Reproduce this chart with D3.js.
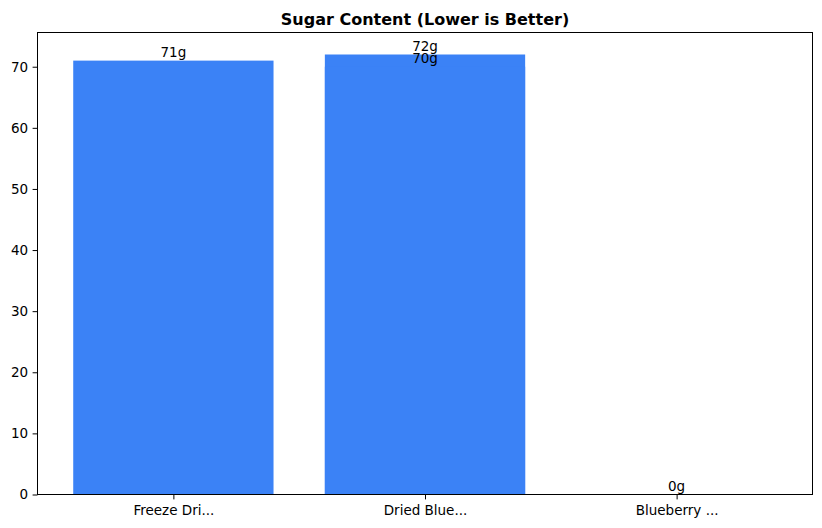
<!DOCTYPE html>
<html>
<head>
<meta charset="utf-8">
<script src="https://cdn.jsdelivr.net/npm/d3@7"></script>
<style>
  body { margin: 0; background: #fff; }
  text { font-family: "DejaVu Sans", sans-serif; }
</style>
</head>
<body>
<svg id="chart" width="822" height="528"></svg>
<script>
// products (labels are truncated, two share the same label)
const products = ["Freeze Dri...", "Dried Blue...", "Dried Blue...", "Blueberry ..."];
const sugar = [71, 72, 70, 0];
const yTicks = [0, 10, 20, 30, 40, 50, 60, 70];

const width = 822;
const height = 528;
const margin = { top: 32.5, right: 9.5, bottom: 33.5, left: 37.5 };

const svg = d3.select("#chart");

const categories = Array.from(new Set(products));
const data = products.map((p, i) => ({ name: p, value: sugar[i] }));

// category positions like matplotlib: index, bar width 0.8, 5% margins
const idx = d3.scaleOrdinal().domain(categories).range(d3.range(categories.length));
const lo = -0.4, hi = categories.length - 1 + 0.4;
const pad = (hi - lo) * 0.05;
const x = d3.scaleLinear()
    .domain([lo - pad, hi + pad])
    .range([margin.left, width - margin.right]);

const yMax = d3.max(sugar) * 1.05;
const y = d3.scaleLinear()
    .domain([0, yMax])
    .range([height - margin.bottom, margin.top]);

// bars
svg.append("g")
    .selectAll("rect")
    .data(data)
    .join("rect")
    .attr("x", d => x(idx(d.name) - 0.4) + 0.5)
    .attr("y", d => y(d.value))
    .attr("width", x(0.8) - x(0) - 1)
    .attr("height", d => y(0) - y(d.value))
    .attr("fill", "#3b82f6");

// value labels (sit on top of each bar, like va="bottom")
svg.append("g")
    .selectAll("text")
    .data(data)
    .join("text")
    .attr("x", d => x(idx(d.name)))
    .attr("y", d => y(d.value) - 3.5)
    .attr("text-anchor", "middle")
    .attr("font-size", "13.5px")
    .attr("fill", "black")
    .text(d => d.value + "g");

// axes
const xAxis = d3.axisBottom(x)
    .tickValues(d3.range(categories.length))
    .tickFormat(i => categories[i])
    .tickSize(4.9)
    .tickPadding(6.5);

const yAxis = d3.axisLeft(y)
    .tickValues(yTicks)
    .tickSize(4.9)
    .tickPadding(4.5);

const gx = svg.append("g")
    .attr("transform", `translate(0,${height - margin.bottom})`)
    .call(xAxis);
gx.select(".domain").remove();

const gy = svg.append("g")
    .attr("transform", `translate(${margin.left},0)`)
    .call(yAxis);
gy.select(".domain").remove();

svg.selectAll(".tick text")
    .attr("font-size", "13.5px")
    .attr("font-family", "DejaVu Sans, sans-serif")
    .attr("fill", "black");
svg.selectAll(".tick line").attr("stroke", "black").attr("stroke-width", 1);

// frame
svg.append("rect")
    .attr("x", margin.left)
    .attr("y", margin.top)
    .attr("width", width - margin.left - margin.right)
    .attr("height", height - margin.top - margin.bottom)
    .attr("fill", "none")
    .attr("stroke", "black")
    .attr("stroke-width", 1);

// title
svg.append("text")
    .attr("x", (margin.left + width - margin.right) / 2)
    .attr("y", margin.top - 8)
    .attr("text-anchor", "middle")
    .attr("font-size", "16px")
    .attr("font-weight", "bold")
    .text("Sugar Content (Lower is Better)");
</script>
</body>
</html>
